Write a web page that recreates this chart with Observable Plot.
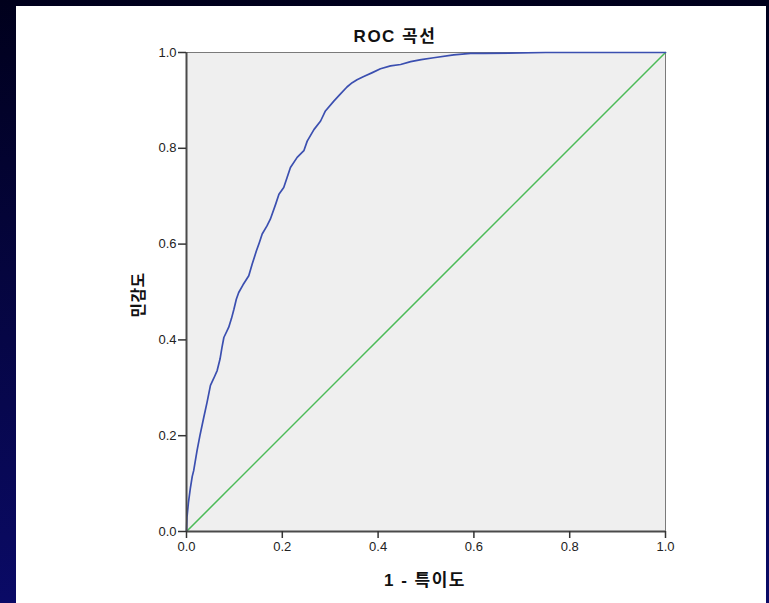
<!DOCTYPE html>
<html>
<head>
<meta charset="utf-8">
<script src="https://cdn.jsdelivr.net/npm/d3@7"></script>
<script src="https://cdn.jsdelivr.net/npm/@observablehq/plot@0.6"></script>
<style>
  html, body { margin: 0; padding: 0; }
  body {
    width: 769px; height: 603px; overflow: hidden; position: relative;
    background: linear-gradient(to bottom, #00001c 0%, #05053e 45%, #0a0a66 100%);
  }
  #panel { position: absolute; left: 16px; top: 6px; width: 750px; height: 597px; background: #ffffff; }
  #chart { position: absolute; left: 0; top: 0; }
  .ttl { position: absolute; font-family: "Liberation Sans", "Noto Sans CJK KR", sans-serif; font-weight: bold; color: #111; white-space: nowrap; }
  #title { left: 395px; top: 34px; transform: translate(-50%, -50%); font-size: 17px; letter-spacing: 1.5px; }
  #xtitle { left: 425px; top: 578px; transform: translate(-50%, -50%); font-size: 17px; letter-spacing: 1.5px; }
  #ytitle { left: 137px; top: 295px; transform: translate(-50%, -50%) rotate(-90deg); font-size: 16px; letter-spacing: 0.5px; }
</style>
</head>
<body>
<div id="panel"></div>
<div id="chart"></div>
<div class="ttl" id="title"></div>
<div class="ttl" id="xtitle"></div>
<div class="ttl" id="ytitle"></div>
<script>
// ---- data ----
const chartTitle = "ROC 곡선";
const xTitle = "1 - 특이도";
const yTitle = "민감도";
const tickValues = [0, 0.2, 0.4, 0.6, 0.8, 1.0];

// ROC curve (1 - specificity, sensitivity)
const fpr = [0, 0.001, 0.004, 0.008, 0.012, 0.015, 0.022, 0.028, 0.036, 0.043, 0.050, 0.057, 0.064, 0.070, 0.074, 0.078, 0.088, 0.094, 0.099, 0.104, 0.109, 0.118, 0.130, 0.137, 0.146, 0.152, 0.158, 0.168, 0.175, 0.186, 0.193, 0.203, 0.210, 0.217, 0.231, 0.245, 0.252, 0.266, 0.280, 0.290, 0.308, 0.322, 0.335, 0.346, 0.356, 0.370, 0.388, 0.405, 0.426, 0.447, 0.468, 0.490, 0.516, 0.558, 0.593, 0.620, 0.750, 1.0];
const tpr = [0, 0.030, 0.060, 0.090, 0.115, 0.127, 0.169, 0.200, 0.238, 0.270, 0.305, 0.320, 0.336, 0.360, 0.384, 0.405, 0.426, 0.445, 0.464, 0.485, 0.499, 0.515, 0.534, 0.558, 0.586, 0.603, 0.621, 0.638, 0.652, 0.683, 0.704, 0.718, 0.739, 0.760, 0.781, 0.795, 0.815, 0.839, 0.857, 0.878, 0.899, 0.914, 0.928, 0.937, 0.943, 0.950, 0.958, 0.966, 0.972, 0.975, 0.981, 0.985, 0.989, 0.995, 0.998, 0.998, 1.0, 1.0];

// reference diagonal
const diagX = [0, 1];
const diagY = [0, 1];

// ---- build ----
const roc = fpr.map((x, i) => ({x, y: tpr[i]}));
const diag = diagX.map((x, i) => ({x, y: diagY[i]}));
const fmt = d3.format(".1f");

document.getElementById("title").textContent = chartTitle;
document.getElementById("xtitle").textContent = xTitle;
document.getElementById("ytitle").textContent = yTitle;

const plot = Plot.plot({
  width: 769,
  height: 603,
  marginLeft: 186,
  marginRight: 104,
  marginTop: 52,
  marginBottom: 72,
  style: {background: "transparent", fontFamily: "'Liberation Sans', Arial, sans-serif", fontSize: "13px", color: "#222"},
  x: {domain: [0, 1], axis: null},
  y: {domain: [0, 1], axis: null},
  marks: [
    Plot.frame({fill: "#efefef", stroke: "#7a7a7a", strokeWidth: 1}),
    Plot.line(diag, {x: "x", y: "y", stroke: "#4cbb58", strokeWidth: 1.5}),
    Plot.line(roc, {x: "x", y: "y", stroke: "#3b4fb0", strokeWidth: 1.7}),
    Plot.ruleX([0], {stroke: "#4a4a4a", strokeWidth: 2}),
    Plot.ruleY([0], {stroke: "#4a4a4a", strokeWidth: 2}),
    Plot.axisX(tickValues, {tickSize: 7, tickPadding: 3, tickFormat: fmt, stroke: "#333", strokeWidth: 1.5, fontSize: 13, label: null}),
    Plot.axisY(tickValues, {tickSize: 8, tickPadding: 2, tickFormat: fmt, stroke: "#333", strokeWidth: 1.5, fontSize: 13, label: null})
  ]
});
document.getElementById("chart").appendChild(plot);
</script>
</body>
</html>
